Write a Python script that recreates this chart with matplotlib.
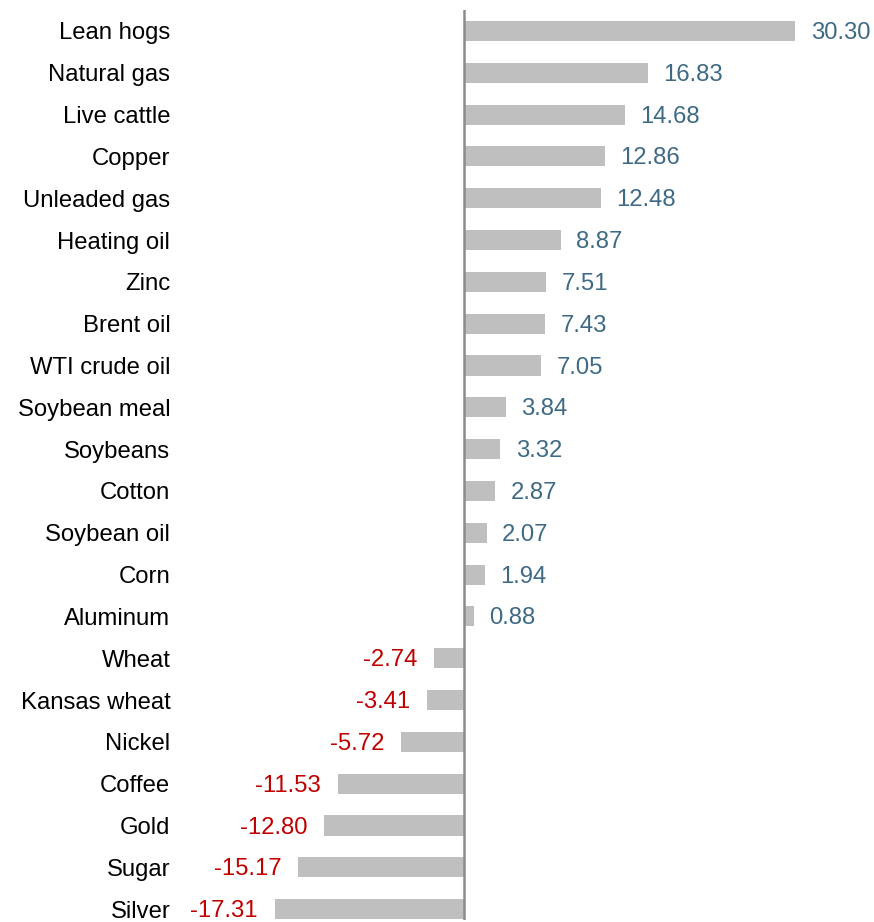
import matplotlib.pyplot as plt

names = ["Lean hogs", "Natural gas", "Live cattle", "Copper", "Unleaded gas",
         "Heating oil", "Zinc", "Brent oil", "WTI crude oil", "Soybean meal",
         "Soybeans", "Cotton", "Soybean oil", "Corn", "Aluminum", "Wheat",
         "Kansas wheat", "Nickel", "Coffee", "Gold", "Sugar", "Silver"]
values = [30.30, 16.83, 14.68, 12.86, 12.48, 8.87, 7.51, 7.43, 7.05, 3.84,
          3.32, 2.87, 2.07, 1.94, 0.88, -2.74, -3.41, -5.72, -11.53, -12.80,
          -15.17, -17.31]

plt.rcParams['font.family'] = ['Liberation Sans', 'DejaVu Sans']

W, H = 874, 922
fig = plt.figure(figsize=(W / 100, H / 100), dpi=100)
ax = fig.add_axes([180 / W, 1 - 920 / H, 690 / W, 910 / H])

ypos = list(range(len(names)))
ax.barh(ypos, values, height=0.48, color="#bfbfbf")
ax.axvline(0, color="#8c8c8c", lw=1.8)

for y, v in zip(ypos, values):
    if v >= 0:
        ax.annotate(f"{v:.2f}", (v, y), xytext=(11, -1.5), textcoords="offset points",
                    ha="left", va="center", fontsize=17.2, color="#3e6a86")
    else:
        ax.annotate(f"{v:.2f}", (v, y), xytext=(-12, -1.5), textcoords="offset points",
                    ha="right", va="center", fontsize=17.2, color="#c00000")

ax.set_xlim((180 - 464) / 10.94, (870 - 464) / 10.94)
ax.set_ylim(len(names) - 1 + 0.26, -0.5)
ax.set_yticks(ypos)
ax.set_yticklabels(names, fontsize=17.2)
ax.tick_params(axis="y", length=0, pad=7)
ax.set_xticks([])
for s in ax.spines.values():
    s.set_visible(False)

fig.savefig("out.png", dpi=100)
